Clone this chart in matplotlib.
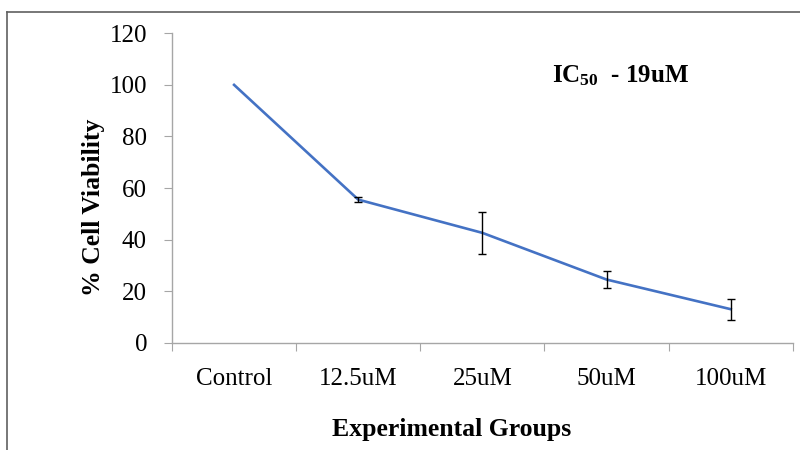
import matplotlib
matplotlib.use('Agg')
import matplotlib.pyplot as plt
from matplotlib.lines import Line2D

plt.rcParams['font.family'] = 'Liberation Serif'
plt.rcParams['mathtext.fontset'] = 'custom'
plt.rcParams['mathtext.rm'] = 'Liberation Serif'
plt.rcParams['mathtext.bf'] = 'Liberation Serif:bold'
plt.rcParams['mathtext.default'] = 'bf'

groups = ['Control', '12.5uM', '25uM', '50uM', '100uM']
viability = [100, 55.5, 42.6, 24.5, 13.0]
errors = [0, 1.0, 8.2, 3.2, 4.0]

fig = plt.figure(figsize=(8, 4.5), dpi=100)
ax = fig.add_axes([0.215, 0.2384, 0.776, 0.6876])

x = list(range(len(groups)))
ax.plot(x, viability, color='#4472C4', linewidth=1.9, zorder=2)
ax.errorbar(x[1:], viability[1:], yerr=errors[1:], fmt='none', ecolor='black',
            elinewidth=1.0, capsize=3, capthick=1.0, zorder=3)

ax.set_xlim(-0.5, len(groups) - 0.5)
ax.set_ylim(0, 120)
ax.set_yticks(range(0, 121, 20))
ax.set_xticks([i + 0.5 for i in range(-1, len(groups))], minor=False)
ax.set_xticklabels([])
ax.set_xticks(x, minor=True)
ax.set_xticklabels(groups, minor=True)
ax.tick_params(axis='x', which='minor', length=0, labelsize=18, pad=18)
ax.tick_params(axis='x', which='major', length=6, color='#a6a6a6', direction='out')
ax.tick_params(axis='y', length=6, color='#a6a6a6', labelsize=18, pad=12)

for s in ['top', 'right']:
    ax.spines[s].set_visible(False)
for s in ['left', 'bottom']:
    ax.spines[s].set_color('#a6a6a6')
    ax.spines[s].set_linewidth(1.0)

ax.set_ylabel('% Cell Viability', fontsize=18.5, fontweight='bold')
ax.yaxis.set_label_coords(-0.108, 0.439)
ax.set_xlabel('Experimental Groups', fontsize=18.5, fontweight='bold')
ax.xaxis.set_label_coords(0.451, -0.243)

fig.text(552 / 800, 1 - 82 / 450, r'IC$_{50}$  - 19uM', fontsize=18,
         fontweight='bold', ha='left', va='baseline')

# outer frame
fig.add_artist(Line2D([7 / 800, 7 / 800], [0, 1 - 12 / 450], color='#606060', linewidth=1.2))
fig.add_artist(Line2D([7 / 800, 1], [1 - 12 / 450, 1 - 12 / 450], color='#606060', linewidth=1.2))

fig.savefig('out.png', dpi=100)
